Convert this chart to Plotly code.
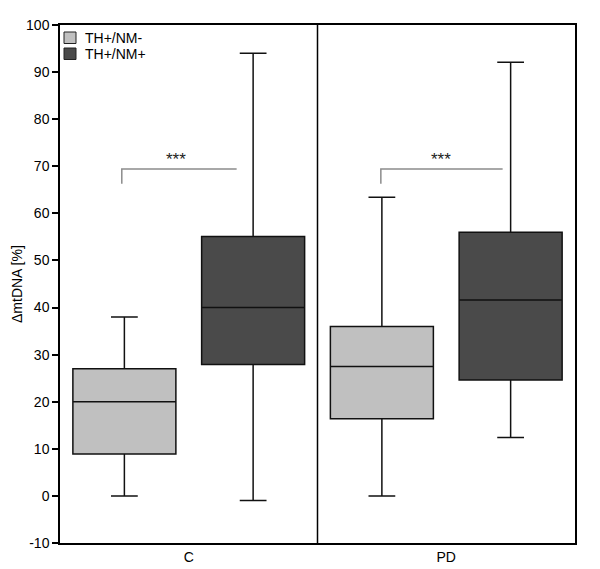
import plotly.graph_objects as go

groups = ["C", "PD"]
series_names = ["TH+/NM-", "TH+/NM+"]
colors = ["#c0c0c0", "#4a4a4a"]

# box statistics per series, per group (C, PD)
lower = {"TH+/NM-": [0, 0], "TH+/NM+": [-1, 12.4]}
q1 = {"TH+/NM-": [8.9, 16.4], "TH+/NM+": [27.9, 24.6]}
median = {"TH+/NM-": [20, 27.5], "TH+/NM+": [40, 41.6]}
q3 = {"TH+/NM-": [27, 36], "TH+/NM+": [55.1, 56]}
upper = {"TH+/NM-": [38, 63.4], "TH+/NM+": [94, 92.1]}

y_tickvals = [-10, 0, 10, 20, 30, 40, 50, 60, 70, 80, 90, 100]
y_ticktext = ["-10", "0", "10", "20", "30", "40", "50", "60", "70", "80", "90", "100"]

sig_labels = ["***", "***"]
bracket_y = 69.4
bracket_tick_y = 66.3
y_title = "ΔmtDNA [%]"

# page is shown with an 8px body offset; margins compensate for it
W, H = 600, 569
ML, MR, MT, MB = 52, 33, 17, 34
PW, PH = W - ML - MR, H - MT - MB

fig = go.Figure()
for name, col in zip(series_names, colors):
    fig.add_trace(go.Box(
        name=name,
        x=groups,
        q1=q1[name], median=median[name], q3=q3[name],
        lowerfence=lower[name], upperfence=upper[name],
        fillcolor=col,
        line=dict(color="#111111", width=1.5),
        whiskerwidth=0.26,
        boxpoints=False,
        hoverinfo="skip",
        showlegend=False,
    ))

# significance brackets (x in category units, C=0, PD=1)
brackets = [(-0.26, 0.186, -0.05), (-0.254, 0.219, -0.02)]
for i, (x0, x1, xs) in enumerate(brackets):
    fig.add_shape(type="path",
                  path=f"M {i + x0} {bracket_tick_y} L {i + x0} {bracket_y} L {i + x1} {bracket_y}",
                  xref="x", yref="y", line=dict(color="#8c8c8c", width=1.5))
    fig.add_annotation(x=i + xs, y=bracket_y + 2.0, text=sig_labels[i], showarrow=False,
                       xref="x", yref="y", yanchor="middle",
                       font=dict(size=17, color="#222"))

# divider between groups
fig.add_shape(type="line", x0=0.5, x1=0.5, y0=-10, y1=100, xref="x", yref="y",
              line=dict(color="black", width=1.5))

# legend (drawn in pixel offsets from plot area top-left)
for k, (name, col) in enumerate(zip(series_names, colors)):
    top = 7 + 16 * k
    fig.add_shape(type="rect", xref="paper", yref="paper",
                  x0=4 / PW, x1=16 / PW,
                  y0=1 - (top + 11.5) / PH, y1=1 - top / PH,
                  fillcolor=col, line=dict(color="#222", width=1))
    fig.add_annotation(xref="paper", yref="paper", x=23 / PW, y=1 - (top + 5.5) / PH,
                       text=name, showarrow=False, xanchor="left", yanchor="middle",
                       font=dict(size=14, color="black"))

# y-axis title
fig.add_annotation(xref="paper", yref="paper", x=-43 / PW, y=0.5, text=y_title,
                   textangle=-90, showarrow=False, xanchor="center", yanchor="middle",
                   font=dict(size=14, color="black"))

fig.update_layout(
    width=W, height=H,
    margin=dict(l=ML, r=MR, t=MT, b=MB, autoexpand=False),
    paper_bgcolor="white", plot_bgcolor="white",
    boxmode="group", boxgap=0, boxgroupgap=0.2,
    font=dict(family="Liberation Sans, Arial, sans-serif", size=14, color="black"),
    showlegend=False,
)
fig.update_xaxes(range=[-0.5, 1.5], showgrid=False, zeroline=False, automargin=False,
                 showline=True, linecolor="black", linewidth=1.5, mirror=True,
                 ticks="", tickfont=dict(size=14))
fig.update_yaxes(range=[-10, 100], tickvals=y_tickvals, ticktext=y_ticktext,
                 showgrid=False, zeroline=False, automargin=False,
                 showline=True, linecolor="black", linewidth=1.5, mirror=True,
                 ticks="outside", ticklen=6, tickwidth=1.5, tickcolor="black",
                 tickfont=dict(size=14))

fig.write_html("out.html")
